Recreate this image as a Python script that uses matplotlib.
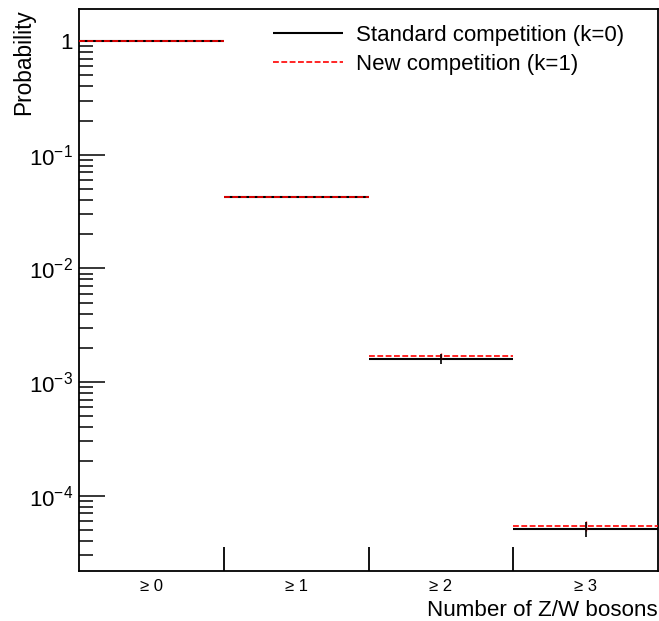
import matplotlib
matplotlib.use('Agg')
from matplotlib import pyplot as plt
import numpy as np

plt.rcParams['font.family'] = ['Liberation Sans', 'DejaVu Sans']
plt.rcParams['mathtext.fontset'] = 'custom'
plt.rcParams['mathtext.rm'] = 'Liberation Sans'
plt.rcParams['mathtext.it'] = 'Liberation Sans:italic'
plt.rcParams['mathtext.bf'] = 'Liberation Sans:bold'

categories = ['\u2265 0', '\u2265 1', '\u2265 2', '\u2265 3']
std_vals = [1.0, 0.0425, 1.60e-3, 5.1e-5]
std_errs = [0.0, 0.0, 0.15e-3, 0.75e-5]
new_vals = [1.0, 0.0425, 1.70e-3, 5.42e-5]
new_errs = [0.0, 0.0, 0.1e-3, 0.5e-5]

fig = plt.figure(figsize=(6.59, 6.21), dpi=100)
ax = fig.add_axes([0.1199, 0.0805, 0.8786, 0.9045])

edges = np.arange(len(categories) + 1)
centers = edges[:-1] + 0.5

ax.hlines(std_vals, edges[:-1], edges[1:], colors='black', lw=1.5,
          label='Standard competition (k=0)', zorder=2)
ax.hlines(new_vals, edges[:-1], edges[1:], colors='red', lw=1.2,
          linestyles=(0, (3.5, 1.5)), label='New competition (k=1)', zorder=3)
ax.vlines(centers, np.array(new_vals) - np.array(new_errs),
          np.array(new_vals) + np.array(new_errs), colors='red', lw=1.0, zorder=3)
ax.vlines(centers, np.array(std_vals) - np.array(std_errs),
          np.array(std_vals) + np.array(std_errs), colors='black', lw=1.2, zorder=4)

ax.set_yscale('log')
ax.set_xlim(0, len(categories))
ax.set_ylim(2.17e-5, 1.91)

# y ticks, ROOT style
ax.set_yticks([1, 1e-1, 1e-2, 1e-3, 1e-4])
ax.set_yticklabels(['1', '$10^{-1}$', '$10^{-2}$', '$10^{-3}$', '$10^{-4}$'], fontsize=16)
ax.tick_params(axis='y', which='major', direction='in', length=19, width=1.1,
               right=False, pad=4.3)
ax.tick_params(axis='y', which='minor', direction='in', length=10, width=1.1,
               right=False)

# x ticks: bin edges as ticks, labels at bin centers
ax.set_xticks(edges[1:-1])
ax.set_xticklabels([])
ax.set_xticks(centers, minor=True)
ax.set_xticklabels(categories, minor=True, fontsize=12)
ax.tick_params(axis='x', which='major', direction='in', length=17, width=1.3, top=False)
ax.tick_params(axis='x', which='minor', length=0, pad=6)

for s in ax.spines.values():
    s.set_linewidth(1.3)

ax.set_ylabel('Probability', fontsize=16.3, loc='top')
ax.yaxis.set_label_coords(-0.076, 1.0)
ax.set_xlabel('Number of Z/W bosons', fontsize=16.1, loc='right')
ax.xaxis.set_label_coords(1.0, -0.051)

ax.legend(loc='upper left', bbox_to_anchor=(273 / 659, 1 - 25 / 621),
          bbox_transform=fig.transFigure, frameon=False, borderpad=0,
          borderaxespad=0, fontsize=16, handlelength=3.15, handletextpad=0.6,
          labelspacing=0.35)

fig.savefig('out.png', dpi=100)
